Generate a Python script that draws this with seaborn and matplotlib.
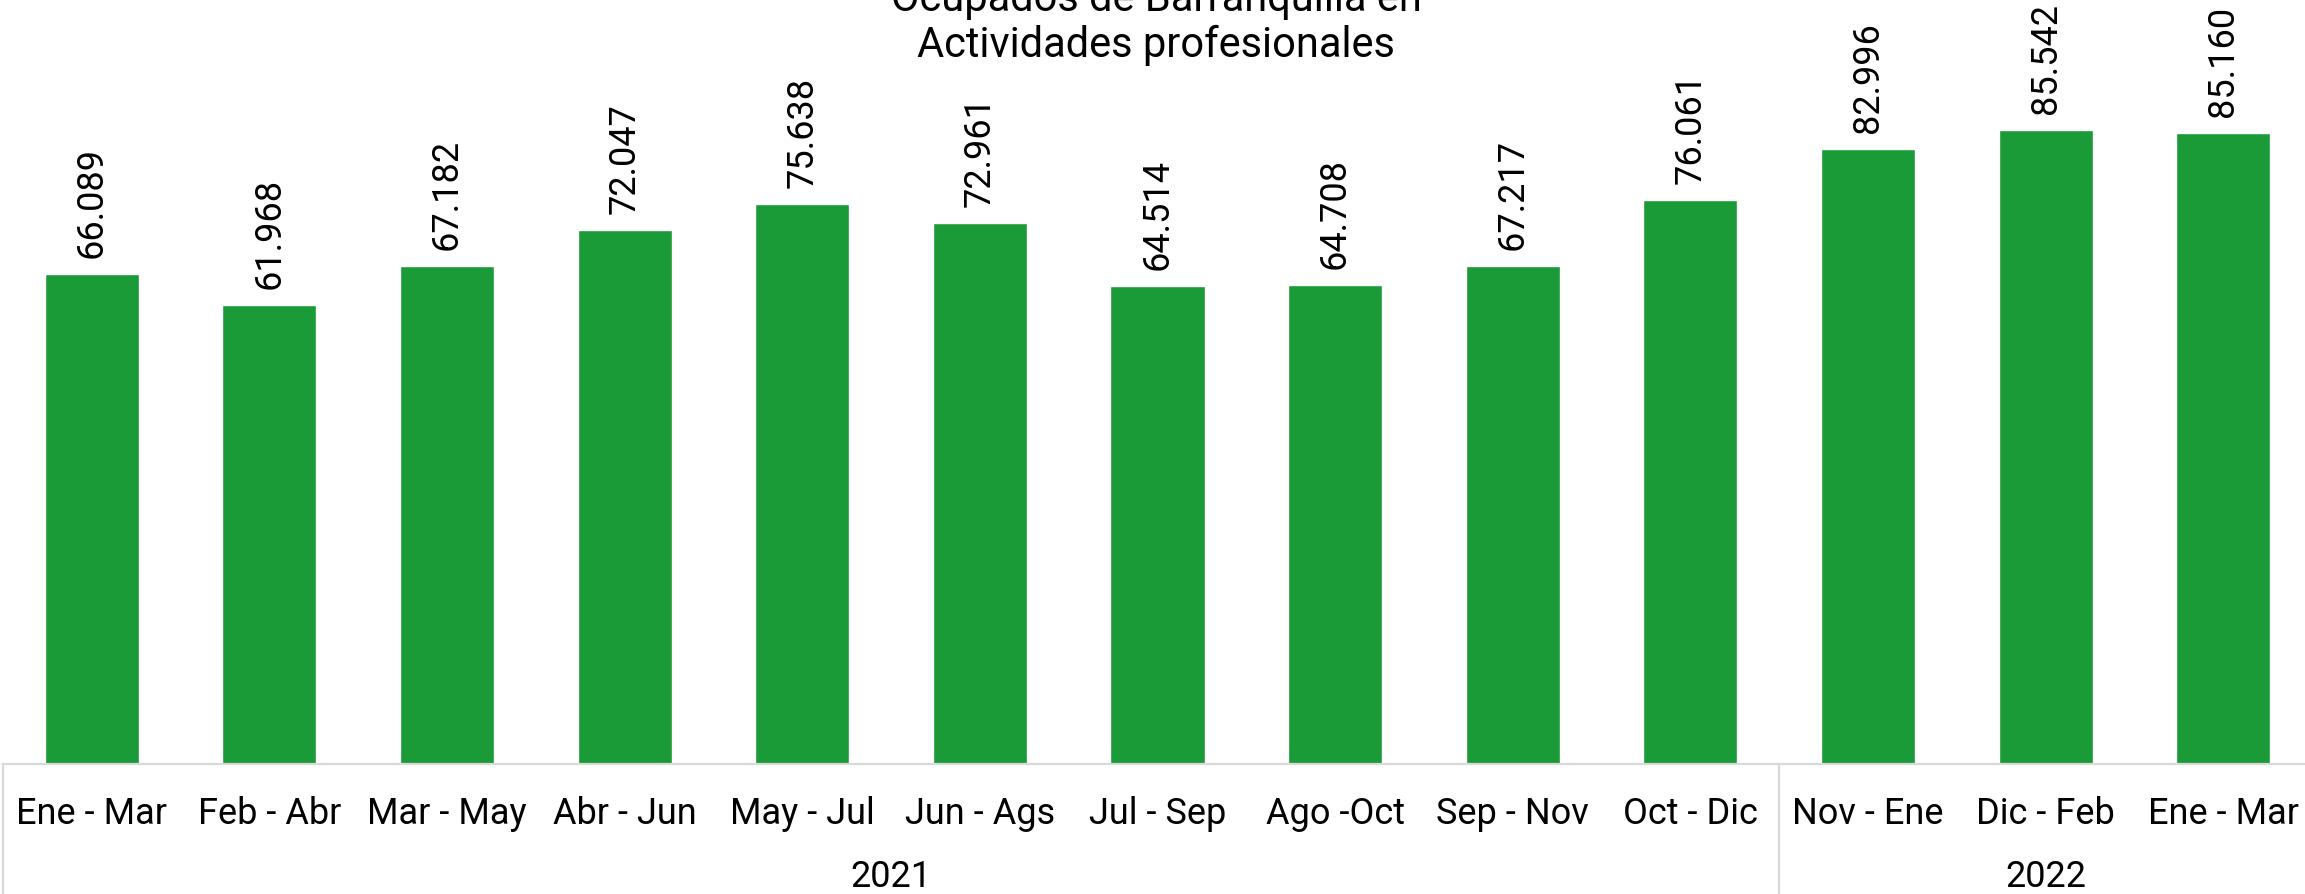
import numpy as np
import pandas as pd
import matplotlib
matplotlib.use("Agg")
import matplotlib.pyplot as plt
import matplotlib.transforms as mtransforms
import seaborn as sns

# data
periods = ["Ene - Mar", "Feb - Abr", "Mar - May", "Abr - Jun", "May - Jul",
           "Jun - Ags", "Jul - Sep", "Ago -Oct", "Sep - Nov", "Oct - Dic",
           "Nov - Ene", "Dic - Feb", "Ene - Mar"]
values = [66.089, 61.968, 67.182, 72.047, 75.638, 72.961, 64.514,
          64.708, 67.217, 76.061, 82.996, 85.542, 85.160]
years = ["2021", "2022"]
year_sizes = [10, 3]

title = "Ocupados de Barranquilla en\nActividades profesionales"
bar_color = "#1a9b38"
line_color = "#d9d9d9"

sns.set_theme(style="white")
plt.rcParams['font.family'] = ['Roboto', 'DejaVu Sans']

df = pd.DataFrame({"pos": np.arange(len(values)), "value": values})

W, H = 2305, 895
fig = plt.figure(figsize=(W / 100, H / 100), dpi=100)
ax = fig.add_axes([3 / W, 130 / H, (2312 - 3) / W, 765 / H])

sns.barplot(data=df, x="pos", y="value", color=bar_color, width=0.53,
            saturation=1, ax=ax)

ax.set_ylim(0, 765 / 7.41)
ax.set_xlim(-0.5, len(values) - 0.5)
ax.set_xticks(range(len(periods)))
ax.set_xticklabels(periods, fontsize=26, color="black")
ax.tick_params(axis="x", length=0, pad=22)
ax.set_yticks([])
ax.set_xlabel("")
ax.set_ylabel("")
for s in ["top", "right", "left"]:
    ax.spines[s].set_visible(False)
ax.spines["bottom"].set_color(line_color)
ax.spines["bottom"].set_linewidth(1.6)

# value labels
for i, v in enumerate(values):
    ax.annotate(f"{v:.3f}", (i, v), xytext=(0, 17), textcoords="offset pixels",
                rotation=90, ha="center", va="bottom", fontsize=26,
                color="black")

# year groups below the categories
trans = mtransforms.blended_transform_factory(ax.transData, ax.transAxes)
depth = -130 / 765
start = -0.5
ax.plot([start, start], [0, depth], transform=trans, color=line_color,
        lw=1.6, clip_on=False)
for yr, n in zip(years, year_sizes):
    end = start + n
    ax.text((start + end) / 2, -(877 - 765) / 765, yr, transform=trans,
            ha="center", va="center", fontsize=26, color="black")
    ax.plot([end, end], [0, depth], transform=trans, color=line_color,
            lw=1.6, clip_on=False)
    start = end

fig.text(1156 / W, 1 - 66 / H, title, ha="center", va="bottom",
         fontsize=30, color="black", linespacing=1.15)

fig.savefig("out.png", dpi=100, facecolor="white")
